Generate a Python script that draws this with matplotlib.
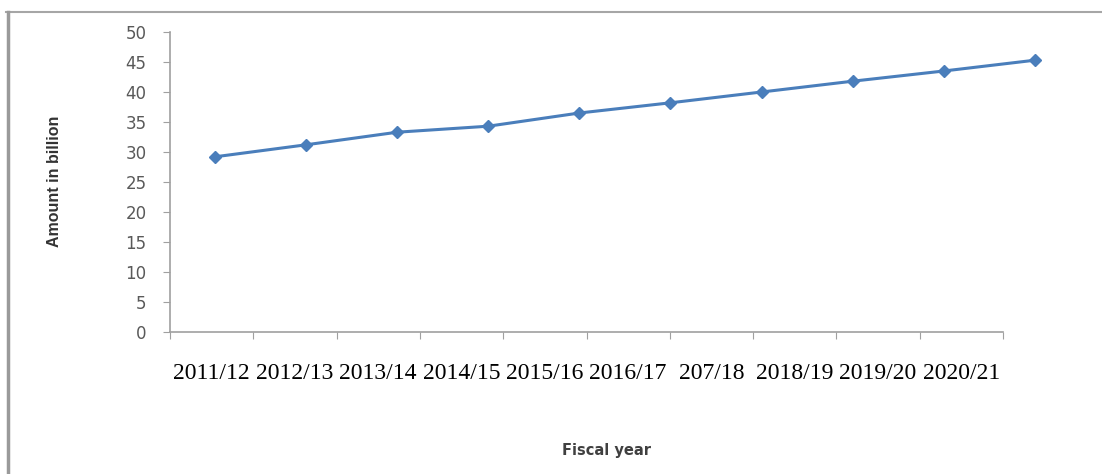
import matplotlib.pyplot as plt
from matplotlib.lines import Line2D

# values
years = ['2011/12', '2012/13', '2013/14', '2014/15', '2015/16',
         '2016/17', '207/18', '2018/19', '2019/20', '2020/21']
amount = [29.2, 31.2, 33.3, 34.3, 36.5, 38.2, 40.0, 41.8, 43.5, 45.3]
y_ticks = list(range(0, 51, 5))

W, H = 1102, 474
fig = plt.figure(figsize=(W / 100, H / 100), dpi=100)
fig.patch.set_facecolor('white')

# frame around the picture (top and left only)
fig.add_artist(Line2D([6 / W, 1.0], [1 - 12 / H, 1 - 12 / H], color='#a6a6a6', lw=1.5))
fig.add_artist(Line2D([8 / W, 8 / W], [0, 1 - 12 / H], color='#9a9a9a', lw=2.5))

pos = [170 / W, 1 - 332 / H, (1003 - 170) / W, 300 / H]
ax = fig.add_axes(pos)
ax.set_xlim(0, len(years))
ax.set_ylim(0, 50)
ax.set_yticks(y_ticks)
ax.set_xticks(range(len(years) + 1))
ax.set_xticklabels([])
ax.set_xticks([i + 0.5 for i in range(len(years))], minor=True)
ax.set_xticklabels(years, minor=True, family='Liberation Serif', fontsize=17)
ax.tick_params(axis='x', which='minor', length=0, pad=22)
ax.tick_params(axis='x', which='major', length=5, color='#a0a0a0', direction='out')
ax.tick_params(axis='y', length=5, color='#a0a0a0', pad=12, labelsize=12, labelcolor='#595959')
for s in ['top', 'right']:
    ax.spines[s].set_visible(False)
for s in ['left', 'bottom']:
    ax.spines[s].set_color('#a0a0a0')
    ax.spines[s].set_linewidth(1.2)

# line sits on its own x scale, slightly offset from the category axis
ax2 = fig.add_axes(pos, sharey=ax)
ax2.set_xlim(-0.494, 8.65)
ax2.axis('off')
ax2.patch.set_visible(False)
ax2.plot(range(len(amount)), amount, color='#4a7ebb', lw=2.2, marker='D',
         markersize=6.5, clip_on=False)

fig.text(55 / W, 1 - 181 / H, 'Amount in billion', rotation=90, ha='center', va='center',
         family='Liberation Sans', fontweight='bold', fontsize=11.5, color='#333333')
fig.text(607 / W, 1 - 450 / H, 'Fiscal year', ha='center', va='center',
         fontweight='bold', fontsize=10.5, color='#404040')

fig.savefig('out.png', dpi=100)
